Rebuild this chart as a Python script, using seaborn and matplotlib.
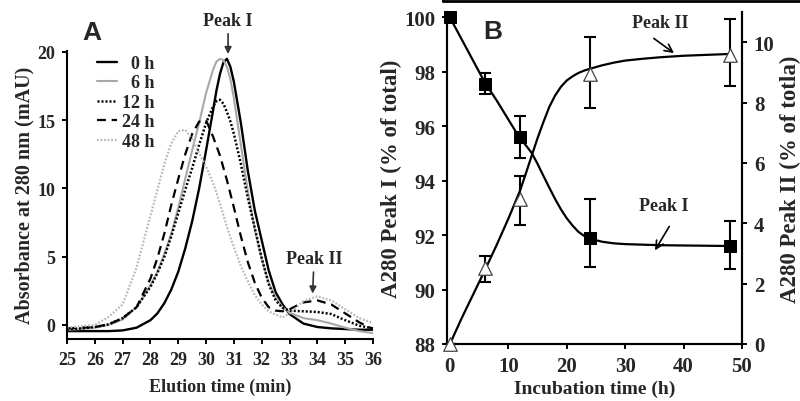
import matplotlib
matplotlib.use("Agg")
import matplotlib.pyplot as plt
import seaborn as sns
from matplotlib.lines import Line2D

sns.set_theme(style="ticks")
plt.rcParams["font.family"] = ["Liberation Serif", "DejaVu Serif"]
plt.rcParams["font.weight"] = "bold"
plt.rcParams["axes.labelweight"] = "bold"

# ---- Panel A: elution profiles ----
elution_time = [25, 25.5, 26, 26.5, 27, 27.5, 28, 28.25, 28.5, 28.75, 29, 29.25, 29.5, 29.75,
                30, 30.25, 30.375, 30.5, 30.625, 30.75, 30.875, 31, 31.25, 31.5, 31.75, 32,
                32.25, 32.5, 32.75, 33, 33.5, 34, 34.5, 35, 35.5, 36]
abs_0h = [-0.45, -0.45, -0.45, -0.45, -0.4, -0.2, 0.35, 0.85, 1.6, 2.6, 3.9, 5.6, 7.6, 10.0,
          12.8, 15.7, 17.2, 18.4, 19.25, 19.5, 18.9, 17.8, 14.8, 11.3, 8.4, 6.2,
          4.0, 2.4, 1.5, 0.8, 0.1, -0.15, -0.25, -0.3, -0.35, -0.35]
abs_6h = [-0.35, -0.3, -0.2, 0.0, 0.4, 1.3, 2.9, 3.9, 5.2, 6.7, 8.6, 10.7, 12.8, 14.8,
          17.0, 18.7, 19.3, 19.5, 19.4, 18.9, 18.0, 16.6, 13.2, 9.8, 7.0, 4.8,
          3.1, 2.0, 1.3, 0.9, 0.5, 0.35, 0.1, -0.2, -0.45, -0.6]
abs_12h = [-0.3, -0.25, -0.15, 0.05, 0.5, 1.3, 2.8, 3.8, 5.0, 6.5, 8.2, 9.9, 11.5, 13.2,
           14.8, 16.0, 16.4, 16.5, 16.2, 15.6, 14.9, 14.0, 11.8, 9.3, 7.1, 4.9,
           3.0, 1.8, 1.25, 1.05, 1.0, 0.95, 0.8, 0.35, -0.05, -0.25]
abs_24h = [-0.25, -0.2, -0.15, 0.05, 0.5, 1.3, 3.4, 4.9, 6.7, 8.8, 10.7, 12.5, 14.0, 14.9,
           15.0, 13.8, 13.1, 12.4, 11.5, 10.6, 9.6, 8.6, 6.5, 4.6, 3.1, 2.0,
           1.3, 1.05, 1.0, 1.15, 1.65, 1.8, 1.5, 0.85, 0.2, -0.3]
abs_48h = [-0.2, -0.1, 0.0, 0.6, 1.5, 4.2, 8.0, 9.9, 11.8, 13.3, 14.2, 14.3, 13.6, 12.6,
           11.6, 10.4, 9.7, 8.9, 8.0, 7.2, 6.4, 5.7, 4.3, 3.2, 2.2, 1.5,
           1.0, 0.75, 0.55, 0.85, 1.75, 2.1, 1.8, 1.15, 0.5, 0.15]
series_labels = ["  0 h", "  6 h", "12 h", "24 h", "48 h"]

# ---- Panel B: peak areas vs incubation time ----
inc_time = [0, 6, 12, 24, 48]
peak1 = [100, 97.55, 95.6, 91.88, 91.6]
peak1_lo = [0, 0.37, 0.77, 1.06, 0.83]
peak1_hi = [0, 0.41, 0.76, 1.45, 0.92]
peak2 = [0, 2.51, 4.81, 8.95, 9.58]
peak2_lo = [0, 0.47, 0.87, 1.13, 1.04]
peak2_hi = [0, 0.42, 0.74, 1.22, 1.19]

fit_time = [0, 2, 4, 6, 8, 10, 12, 13, 14, 15, 16, 17, 18, 19, 20, 21, 22, 23, 24,
            26, 28, 30, 33, 36, 40, 44, 48]
peak1_fit = [100, 99.2, 98.4, 97.6, 96.95, 96.25, 95.55, 95.3, 95.02, 94.62, 94.18, 93.75,
             93.33, 92.95, 92.62, 92.35, 92.12, 91.97, 91.87, 91.76, 91.7, 91.67, 91.65,
             91.63, 91.62, 91.61, 91.6]
peak2_fit = [0, 0.85, 1.65, 2.45, 3.28, 4.15, 5.08, 5.65, 6.24, 6.82, 7.35, 7.85, 8.23,
             8.52, 8.73, 8.87, 8.98, 9.06, 9.12, 9.23, 9.32, 9.39, 9.45, 9.5, 9.55, 9.58, 9.61]

fig = plt.figure(figsize=(8, 4.02), dpi=100)
axA = fig.add_axes([0.08375, 0.1542, 0.3825, 0.7174])
axB = fig.add_axes([0.55875, 0.1418, 0.36875, 0.8259])
axC = axB.twinx()

# Panel A curves
styles = [
    dict(color="black", lw=1.7, linestyle="-"),
    dict(color="#a8a8a8", lw=1.5, linestyle="-"),
    dict(color="black", lw=1.8, linestyle=(0, (0.8, 0.8))),
    dict(color="black", lw=1.6, linestyle=(0, (4, 2.6))),
    dict(color="#b8b8b8", lw=1.6, linestyle=(0, (0.8, 0.8))),
]
for vals, lab, st in zip([abs_0h, abs_6h, abs_12h, abs_24h, abs_48h], series_labels, styles):
    sns.lineplot(x=elution_time, y=vals, ax=axA, label=lab, sort=False, estimator=None, **st)

axA.set_xlim(25, 36)
axA.set_ylim(-1.03, 20.1)
axA.set_xticks(range(25, 37))
axA.set_yticks([0, 5, 10, 15, 20])
axA.spines[["top", "right"]].set_visible(False)
axA.set_xlabel("Elution time (min)", fontsize=13)
axA.set_ylabel("Absorbance at 280 nm (mAU)", fontsize=14.5)
axA.xaxis.set_label_coords(0.5, -0.135)
axA.yaxis.set_label_coords(-0.106, 0.5)
axA.legend(loc="upper left", bbox_to_anchor=(0.121, 0.861), bbox_transform=fig.transFigure,
           frameon=False, fontsize=13, handlelength=1.1, handletextpad=0.3,
           labelspacing=0.14, borderpad=0, borderaxespad=0)
axA.annotate("Peak I", xy=(30.79, 19.85), xytext=(30.79, 22.3), ha="center", va="center",
             fontsize=13, annotation_clip=False,
             arrowprops=dict(arrowstyle="-|>", color="#333333", lw=1.2, mutation_scale=10,
                             shrinkA=1, shrinkB=0))
axA.annotate("Peak II", xy=(33.83, 2.3), xytext=(33.88, 4.84), ha="center", va="center",
             fontsize=13, annotation_clip=False,
             arrowprops=dict(arrowstyle="-|>", color="#333333", lw=1.2, mutation_scale=10,
                             shrinkA=1, shrinkB=0))
fig.text(0.115, 0.918, "A", fontsize=19, fontweight="bold", family="Liberation Sans",
         ha="center", va="center")

# Panel B
sns.lineplot(x=fit_time, y=peak1_fit, ax=axB, color="black", lw=1.6, sort=False, estimator=None)
axB.errorbar(inc_time, peak1, yerr=[peak1_lo, peak1_hi], fmt="none", ecolor="black",
             elinewidth=1.5, capsize=4, capthick=1.5, clip_on=False)
sns.scatterplot(x=inc_time, y=peak1, ax=axB, marker="s", s=80, color="black",
                edgecolor="black", zorder=5, clip_on=False)

sns.lineplot(x=fit_time, y=peak2_fit, ax=axC, color="black", lw=1.6, sort=False, estimator=None)
axC.errorbar(inc_time, peak2, yerr=[peak2_lo, peak2_hi], fmt="none", ecolor="black",
             elinewidth=1.5, capsize=4, capthick=1.5, clip_on=False)
sns.scatterplot(x=inc_time, y=peak2, ax=axC, marker="^", s=95, color="white",
                edgecolor="#444444", linewidth=0.9, zorder=5, clip_on=False)

axB.set_xlim(-0.5, 50)
axB.set_ylim(88, 100.2)
axC.set_ylim(0, 11.0)
axB.set_xticks([0, 10, 20, 30, 40, 50])
axB.set_yticks(range(88, 101, 2))
axC.set_yticks(range(0, 11, 2))
axB.spines["top"].set_visible(False)
axC.spines["top"].set_visible(False)
axB.set_xlabel("Incubation time (h)", fontsize=14)
axB.set_ylabel("A280 Peak I (% of total)", fontsize=16.5)
axC.set_ylabel("A280 Peak II (% of totla)", fontsize=16.5)
axB.xaxis.set_label_coords(0.5, -0.107)
axB.yaxis.set_label_coords(-0.152, 0.5)
axC.yaxis.set_label_coords(1.13, 0.5)

axB.text(35.96, 99.83, "Peak II", ha="center", va="center", fontsize=13)
axB.annotate("", xy=(38.36, 98.69), xytext=(34.9, 99.23),
             arrowprops=dict(arrowstyle="->", color="black", lw=1.2, mutation_scale=14,
                             shrinkA=0, shrinkB=0))
axB.text(36.64, 93.1, "Peak I", ha="center", va="center", fontsize=13)
axB.annotate("", xy=(35.1, 91.44), xytext=(37.55, 92.32),
             arrowprops=dict(arrowstyle="->", color="black", lw=1.2, mutation_scale=14,
                             shrinkA=0, shrinkB=0))
fig.text(0.616, 0.92, "B", fontsize=19, fontweight="bold", family="Liberation Sans",
         ha="center", va="center")

for ax in (axA, axB, axC):
    for sp in ax.spines.values():
        sp.set_linewidth(1.5)
        sp.set_color("black")
    ax.tick_params(direction="out", length=3.5, width=1.4, color="black", pad=5,
                   labelsize=13 if ax is axA else 15)
    for lab in ax.get_xticklabels() + ax.get_yticklabels():
        lab.set_fontweight("bold")

# frame remnant along the top edge
fig.add_artist(Line2D([0.554, 1.0], [0.995, 0.995], color="black", lw=2, transform=fig.transFigure))
fig.add_artist(Line2D([0.554, 0.554], [0.995, 1.0], color="black", lw=2, transform=fig.transFigure))

fig.savefig("out.png", dpi=100)
